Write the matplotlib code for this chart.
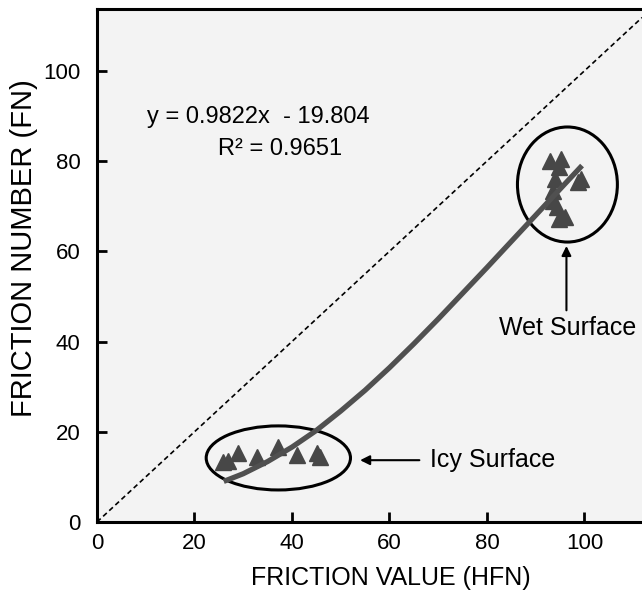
import matplotlib.pyplot as plt
from matplotlib.patches import Ellipse
import numpy as np

# friction readings (HFN vs FN)
icy_x = [25.9, 26.9, 29.0, 32.9, 37.2, 41.1, 45.2, 45.8]
icy_y = [13.3, 13.6, 15.3, 14.4, 16.7, 14.9, 15.3, 14.4]
wet_x = [93.0, 95.1, 94.7, 94.0, 99.2, 98.6, 93.6, 93.6, 94.4, 94.7, 96.1]
wet_y = [80.0, 80.4, 78.7, 76.0, 76.0, 75.3, 73.3, 71.1, 69.8, 67.1, 67.6]

# trend curve
curve_x = [26, 30, 35, 40, 45, 50, 55, 60, 65, 70, 75, 80, 85, 90, 95, 99.5]
curve_y = [9, 10.7, 13.4, 16.6, 20.3, 24.6, 29.2, 34.2, 39.5, 45, 50.7, 56.4, 62.2, 68, 73.8, 79]

xticks = [0, 20, 40, 60, 80, 100]
yticks = [0, 20, 40, 60, 80, 100]
eq_text = "y = 0.9822x  - 19.804"
r2_text = "R\u00b2 = 0.9651"

plt.rcParams['font.family'] = ['Liberation Sans', 'DejaVu Sans']

fig = plt.figure(figsize=(6.42, 5.9), dpi=100)
ax = fig.add_axes([97/642, 1 - 522/590, 545/642, 513/590])
ax.set_facecolor('#f3f3f3')

ax.axline((0, 0), slope=1, color='black', lw=1.2, ls=(0, (3, 2)))
ax.plot(icy_x, icy_y, '^', color='#474747', ms=11, mec='#474747')
ax.plot(wet_x, wet_y, '^', color='#474747', ms=11, mec='#474747')
ax.plot(curve_x, curve_y, color='#505050', lw=3.8, solid_capstyle='butt', solid_joinstyle='round')

ax.add_patch(Ellipse((37.2, 14.2), 29.6, 14.2, fill=False, ec='black', lw=2.2))
ax.add_patch(Ellipse((96.5, 74.8), 20.5, 25.5, fill=False, ec='black', lw=2.2))

ax.annotate('', xy=(53.4, 13.7), xytext=(66.7, 13.7),
            arrowprops=dict(arrowstyle='-|>', color='black', lw=1.5, mutation_scale=14))
ax.text(68.4, 13.7, 'Icy Surface', fontsize=18, va='center', ha='left')
ax.annotate('', xy=(96.3, 61.8), xytext=(96.3, 46.3),
            arrowprops=dict(arrowstyle='-|>', color='black', lw=1.5, mutation_scale=14))
ax.text(96.5, 43.0, 'Wet Surface', fontsize=18, va='center', ha='center')

ax.text(33.0, 89.8, eq_text, fontsize=17, ha='center', va='center')
ax.text(37.6, 82.7, r2_text, fontsize=17, ha='center', va='center')

ax.set_xlim(0, 111.8)
ax.set_ylim(0, 113.7)
ax.set_xticks(xticks)
ax.set_yticks(yticks)
ax.tick_params(direction='in', length=7, width=2, labelsize=16)
ax.tick_params(axis='x', pad=8)
ax.tick_params(axis='y', pad=12)
for s in ['left', 'bottom', 'top']:
    ax.spines[s].set_linewidth(2.2)
ax.spines['right'].set_visible(False)

ax.set_xlabel('FRICTION VALUE (HFN)', fontsize=18, va='center')
ax.set_ylabel('FRICTION NUMBER (FN)', fontsize=21, va='center')
ax.xaxis.set_label_coords((391 - 97) / 545, (522 - 578) / 513)
ax.yaxis.set_label_coords((24 - 97) / 545, (522 - 248) / 513)

fig.savefig('out.png', dpi=100)
